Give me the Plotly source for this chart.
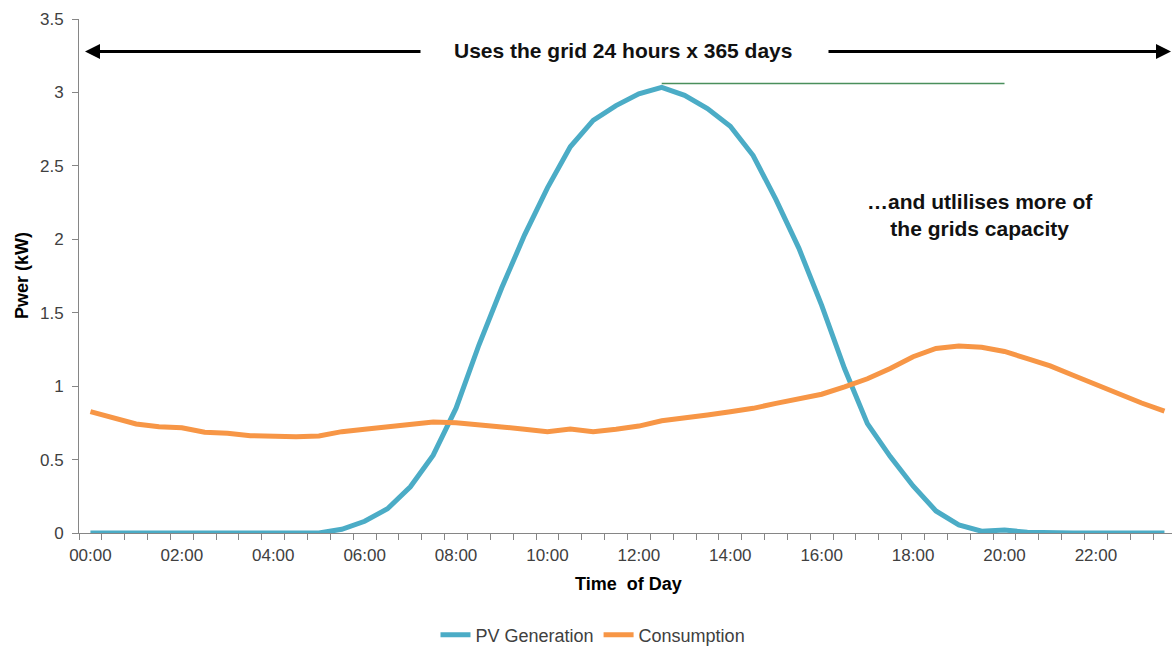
import plotly.graph_objects as go

# Half-hourly time slots across one day
times = [f"{h:02d}:{m:02d}" for h in range(24) for m in (0, 30)]
tick_labels = [t if i % 4 == 0 else "" for i, t in enumerate(times)]

# Average PV generation (kW) per half hour
pv_generation = [
    0, 0, 0, 0, 0, 0, 0, 0, 0, 0,
    0, 0.025, 0.08, 0.165, 0.315, 0.53, 0.85, 1.28, 1.67, 2.03,
    2.35, 2.63, 2.81, 2.91, 2.99, 3.035, 2.98, 2.89, 2.77, 2.57,
    2.27, 1.94, 1.55, 1.12, 0.745, 0.52, 0.32, 0.15, 0.055, 0.012,
    0.02, 0.005, 0, 0, 0, 0, 0, 0,
]

# Average household consumption (kW) per half hour
consumption = [
    0.826, 0.78, 0.742, 0.724, 0.717, 0.686, 0.679, 0.663, 0.656, 0.656,
    0.66, 0.69, 0.706, 0.72, 0.742, 0.756, 0.75, 0.74, 0.722, 0.706,
    0.69, 0.708, 0.69, 0.706, 0.728, 0.764, 0.781, 0.803, 0.826, 0.849,
    0.883, 0.915, 0.945, 0.995, 1.05, 1.12, 1.2, 1.257, 1.273, 1.265,
    1.236, 1.188, 1.138, 1.074, 1.01, 0.95, 0.885, 0.83,
]

peak_level = 3.06
peak_span = ("12:30", "20:00")

FONT = "Liberation Sans, Arial, sans-serif"
AXIS_GREY = "#868686"

fig = go.Figure()
fig.add_trace(go.Scatter(
    x=times, y=pv_generation, mode="lines", name="PV Generation",
    line=dict(color="#4BACC6", width=5),
))
fig.add_trace(go.Scatter(
    x=times, y=consumption, mode="lines", name="Consumption",
    line=dict(color="#F79646", width=5),
))

# Thin reference line level with the generation peak
fig.add_shape(
    type="line", xref="x", yref="y",
    x0=peak_span[0], x1=peak_span[1], y0=peak_level, y1=peak_level,
    line=dict(color="#4a8f5c", width=1.5),
)

PLOT_L, PLOT_W, PLOT_T, PLOT_H = 79, 1093, 19, 514


def px_x(px):
    return (px - PLOT_L) / PLOT_W


def px_y(py):
    return (PLOT_T + PLOT_H - py) / PLOT_H


arrow_y = px_y(51.5)
annotations = [
    dict(text="<b>Uses the grid 24 hours x 365 days</b>", xref="paper", yref="paper",
         x=px_x(623), y=px_y(50), showarrow=False, xanchor="center", yanchor="middle",
         font=dict(family=FONT, size=21, color="#111111")),
    dict(text="", xref="paper", yref="paper", x=px_x(85), y=arrow_y,
         ax=337, ay=0, showarrow=True, arrowhead=2, arrowsize=1.0, arrowwidth=3,
         arrowcolor="#000000", standoff=0),
    dict(text="", xref="paper", yref="paper", x=px_x(1182), y=arrow_y,
         ax=-355, ay=0, showarrow=True, arrowhead=2, arrowsize=1.0, arrowwidth=3,
         arrowcolor="#000000", standoff=0),
    dict(text="<b>…and utlilises more of<br>the grids capacity</b>", xref="paper", yref="paper",
         x=px_x(980), y=px_y(214.5), showarrow=False, xanchor="center", yanchor="middle",
         align="center", font=dict(family=FONT, size=21, color="#111111")),
    dict(text="<b>Pwer (kW)</b>", xref="paper", yref="paper", x=px_x(22), y=0.5,
         textangle=-90, showarrow=False, xanchor="center", yanchor="middle",
         font=dict(family=FONT, size=18, color="#000000")),
    dict(text="<b>Time  of Day</b>", xref="paper", yref="paper", x=px_x(628), y=px_y(584),
         showarrow=False, xanchor="center", yanchor="middle",
         font=dict(family=FONT, size=18, color="#000000")),
]

fig.update_layout(
    width=1172, height=646,
    margin=dict(l=PLOT_L, r=0, t=PLOT_T, b=646 - PLOT_T - PLOT_H, pad=0, autoexpand=False),
    paper_bgcolor="white", plot_bgcolor="white",
    font=dict(family=FONT, size=17, color="#404040"),
    showlegend=True,
    legend=dict(orientation="h", x=px_x(593), y=px_y(635), xanchor="center", yanchor="middle",
                font=dict(family=FONT, size=18, color="#404040"), bgcolor="rgba(0,0,0,0)"),
    annotations=annotations,
    xaxis=dict(
        type="category", categoryorder="array", categoryarray=times,
        tickmode="array", tickvals=times, ticktext=tick_labels, tickangle=0,
        tickson="boundaries", ticks="outside", ticklen=6, tickcolor=AXIS_GREY,
        showline=True, linecolor=AXIS_GREY, linewidth=1, showgrid=False,
        range=[-0.5, 47.33], tickfont=dict(size=17, color="#404040"),
        automargin=False, ticklabelstandoff=7,
    ),
    yaxis=dict(
        range=[0, 3.5], tick0=0, dtick=0.5, ticks="outside", ticklen=6,
        tickcolor=AXIS_GREY, showline=True, linecolor=AXIS_GREY, linewidth=1,
        showgrid=False, zeroline=False, ticklabelstandoff=5, automargin=False,
        tickfont=dict(size=17, color="#404040"),
    ),
)

fig.write_html("out.html")
